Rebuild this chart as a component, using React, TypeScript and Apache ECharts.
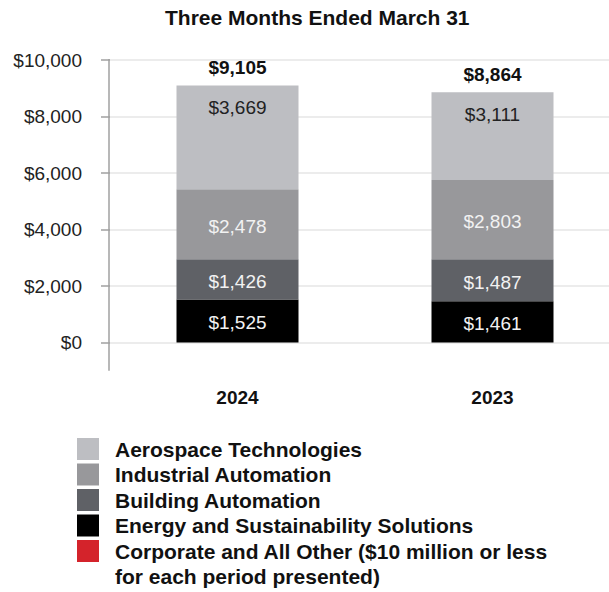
import React, { useEffect, useRef } from "react";
import * as echarts from "echarts";

const categories = ["2024", "2023"];
const energy = [1525, 1461];
const building = [1426, 1487];
const industrial = [2478, 2803];
const aerospace = [3669, 3111];
const corporate = [7, 2];
const totals = [9105, 8864];

const seriesNames = [
  "Energy and Sustainability Solutions",
  "Building Automation",
  "Industrial Automation",
  "Aerospace Technologies",
  "Corporate and All Other ($10 million or less for each period presented)",
];
const legendOrder = [3, 2, 1, 0, 4];
const colors = ["#000000", "#5f6166", "#98989b", "#bdbec2", "#d4232b"];

const FONT = "'Liberation Sans', Arial, Helvetica, sans-serif";
const money = (v: number) => "$" + v.toLocaleString("en-US");

export default function App() {
  const ref = useRef<HTMLDivElement>(null);
  useEffect(() => {
    if (!ref.current) return;
    const chart = echarts.init(ref.current, undefined, { renderer: "svg" });
    const gridLeft = 110;
    const values = [energy, building, industrial, aerospace, corporate];
    const series: any[] = values.map((arr, i) => {
      const s: any = {
        name: seriesNames[i],
        type: "bar",
        stack: "total",
        barWidth: 122,
        data: arr,
        itemStyle: { color: colors[i] },
        label: { show: false },
      };
      if (i < 3) {
        s.label = {
          show: true,
          position: "inside",
          offset: [0, 2],
          color: "#f2f2f2",
          fontSize: 19,
          fontFamily: FONT,
          formatter: (p: any) => money(p.value),
        };
      } else if (i === 3) {
        s.label = {
          show: true,
          position: "insideTop",
          distance: 13,
          color: "#222222",
          fontSize: 19,
          fontFamily: FONT,
          formatter: (p: any) => money(p.value),
        };
      } else {
        s.itemStyle = { color: "rgba(0,0,0,0)" };
        s.label = {
          show: true,
          position: "top",
          distance: 8,
          color: "#111111",
          fontSize: 19,
          fontWeight: "bold",
          fontFamily: FONT,
          formatter: (p: any) => money(totals[p.dataIndex]),
        };
      }
      return s;
    });

    chart.setOption({
      animation: false,
      title: {
        text: "Three Months Ended March 31",
        left: 160,
        top: 2,
        textStyle: { fontSize: 21, fontWeight: "bold", color: "#111111", fontFamily: FONT },
      },
      grid: {
        left: gridLeft,
        top: 60,
        width: 510,
        height: 282.5,
        containLabel: false,
        outerBoundsMode: "none",
      },
      xAxis: {
        type: "category",
        data: categories,
        axisLine: { show: false },
        axisTick: { show: false },
        axisLabel: {
          margin: 45,
          fontSize: 19,
          fontWeight: "bold",
          color: "#111111",
          fontFamily: FONT,
        },
      },
      yAxis: {
        type: "value",
        min: 0,
        max: 10000,
        interval: 2000,
        axisLine: { show: false },
        axisTick: { show: true, length: 9, lineStyle: { color: "#a0a0a0", width: 1.5 } },
        splitLine: { lineStyle: { color: "#e6e6e6", width: 1.5 } },
        axisLabel: {
          margin: 28,
          fontSize: 19,
          color: "#222222",
          fontFamily: FONT,
          formatter: (v: number) => money(v),
        },
      },
      legend: {
        orient: "vertical",
        left: 77,
        top: 438,
        padding: 0,
        itemWidth: 22,
        itemHeight: 22,
        itemGap: 3.5,
        icon: "rect",
        selectedMode: false,
        data: legendOrder.map((i) => ({
          name: seriesNames[i],
          itemStyle: { color: colors[i], opacity: 1 },
        })),
        formatter: (name: string) =>
          name === seriesNames[4] ? "Corporate and All Other ($10 million or less" : name,
        textStyle: {
          fontSize: 21,
          fontWeight: "bold",
          color: "#111111",
          fontFamily: FONT,
          padding: [0, 0, 0, 11],
        },
      },
      series,
    });

    const yTop = chart.convertToPixel({ yAxisIndex: 0 }, 10000) as number;
    const yBottom = chart.convertToPixel({ yAxisIndex: 0 }, -1000) as number;
    chart.setOption({
      graphic: [
        {
          type: "line",
          shape: { x1: gridLeft - 1, y1: yTop - 1, x2: gridLeft - 1, y2: yBottom },
          style: { stroke: "#a0a0a0", lineWidth: 1.5 },
          z: 10,
        },
        {
          type: "text",
          left: 115,
          top: 566,
          style: {
            text: "for each period presented)",
            fontSize: 21,
            fontWeight: "bold",
            fill: "#111111",
            fontFamily: FONT,
          },
        },
      ],
    });

    return () => chart.dispose();
  }, []);
  return (
    <div
      ref={ref}
      style={{ position: "fixed", left: 0, top: 0, width: 609, height: 592, background: "#ffffff" }}
    />
  );
}
